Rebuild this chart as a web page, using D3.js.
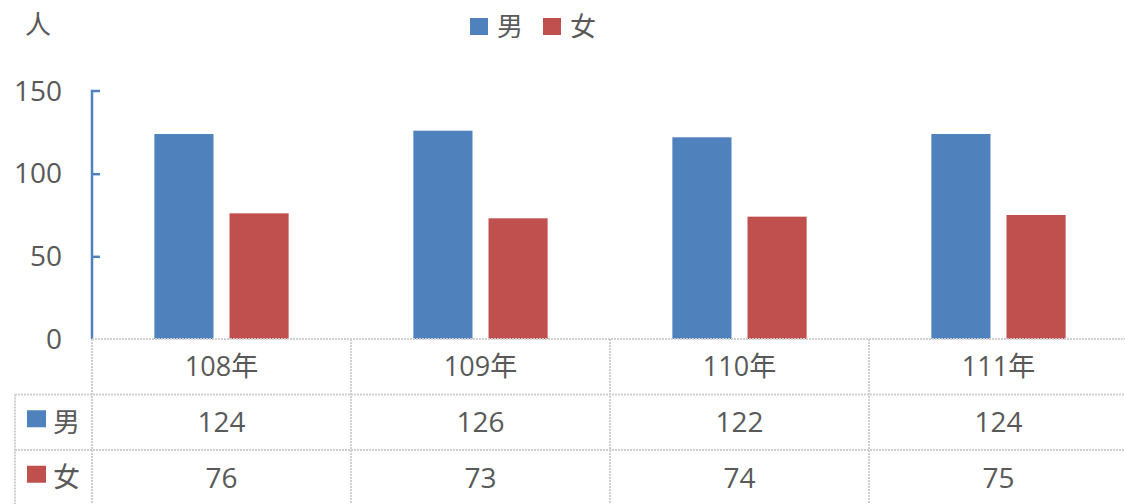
<!DOCTYPE html>
<html>
<head>
<meta charset="utf-8">
<script src="https://cdn.jsdelivr.net/npm/d3@7"></script>
<style>
  body { margin: 0; background: #fff; }
  svg text { font-family: "Open Sans", "Noto Sans CJK TC", sans-serif; fill: #595959; }
</style>
</head>
<body>
<svg id="chart" width="1125" height="504"></svg>
<script>
  var years = ["108年", "109年", "110年", "111年"];
  var seriesNames = ["男", "女"];
  var male = [124, 126, 122, 124];
  var female = [76, 73, 74, 75];
  var yTicks = [0, 50, 100, 150];
  var colors = ["#4F81BD", "#C0504D"];

  var svg = d3.select("#chart");
  var W = 1125, H = 504;
  var left = 92, plotRight = 1128, plotTop = 91, base = 339;
  var rowH = 55.5;

  var x = d3.scaleBand().domain(years).range([left, plotRight]);
  var x1 = d3.scaleBand().domain(seriesNames).range([0, x.bandwidth()])
      .paddingInner(0.213).paddingOuter(0.83);
  var y = d3.scaleLinear().domain([0, 150]).range([base, plotTop]);

  var series = [male, female];

  // bars
  series.forEach(function(vals, si) {
    svg.append("g").selectAll("rect")
      .data(vals)
      .enter().append("rect")
        .attr("x", function(d, i) { return x(years[i]) + x1(seriesNames[si]); })
        .attr("y", function(d) { return y(d); })
        .attr("width", x1.bandwidth())
        .attr("height", function(d) { return base - y(d); })
        .attr("fill", colors[si]);
  });

  // y axis
  var yAxis = d3.axisRight(y).tickValues(yTicks).tickSize(8).tickFormat("");
  var ga = svg.append("g").attr("transform", "translate(" + left + ",0)").call(yAxis);
  ga.selectAll("path, line").attr("stroke", "#4F81BD").attr("stroke-width", 2.5);
  ga.select(".domain").attr("d", "M8," + plotTop + "H0V" + base);
  ga.selectAll(".tick line").filter(function(d) { return d === 0 || d === 150; }).remove();

  svg.append("g").selectAll("text")
    .data(yTicks)
    .enter().append("text")
      .attr("x", 62)
      .attr("y", function(d) { return y(d); })
      .attr("dy", "0.35em")
      .attr("text-anchor", "end")
      .style("font-size", "28px")
      .text(function(d) { return d; });

  // unit label
  svg.append("text").attr("x", 25).attr("y", 34).style("font-size", "26px").text("人");

  // legend
  var lg = svg.append("g");
  var legendX = [470, 543];
  seriesNames.forEach(function(n, i) {
    lg.append("rect").attr("x", legendX[i]).attr("y", 18).attr("width", 18).attr("height", 17).attr("fill", colors[i]);
    lg.append("text").attr("x", legendX[i] + 27).attr("y", 36).style("font-size", "26px").text(n);
  });

  // data table
  var tbl = svg.append("g");
  var grid = { stroke: "#cfcfcf", "stroke-width": 2, "stroke-dasharray": "2,1" };
  function gline(x1p, y1p, x2p, y2p) {
    var l = tbl.append("line").attr("x1", x1p).attr("y1", y1p).attr("x2", x2p).attr("y2", y2p);
    for (var k in grid) l.attr(k, grid[k]);
  }
  var rows = [base, base + rowH, base + 2 * rowH];
  gline(left, rows[0], W, rows[0]);
  gline(15, rows[1], W, rows[1]);
  gline(15, rows[2], W, rows[2]);
  gline(15, rows[1], 15, H);
  years.forEach(function(yr) {
    gline(x(yr), rows[0], x(yr), H);
  });

  tbl.selectAll("text.yr")
    .data(years)
    .enter().append("text")
      .attr("x", function(d) { return x(d) + x.bandwidth() / 2; })
      .attr("y", rows[0] + rowH / 2)
      .attr("dy", "0.35em")
      .attr("text-anchor", "middle")
      .style("font-size", "27px")
      .text(function(d) { return d; });

  series.forEach(function(vals, si) {
    var ry = rows[si + 1] + rowH / 2;
    tbl.append("rect").attr("x", 27).attr("y", ry - 12).attr("width", 19).attr("height", 17).attr("fill", colors[si]);
    tbl.append("text").attr("x", 53).attr("y", ry).attr("dy", "0.35em").style("font-size", "27px").text(seriesNames[si]);
    tbl.selectAll("text.v" + si)
      .data(vals)
      .enter().append("text")
        .attr("x", function(d, i) { return x(years[i]) + x.bandwidth() / 2; })
        .attr("y", ry)
        .attr("dy", "0.35em")
        .attr("text-anchor", "middle")
        .style("font-size", "28px")
        .text(function(d) { return d; });
  });
</script>
</body>
</html>
